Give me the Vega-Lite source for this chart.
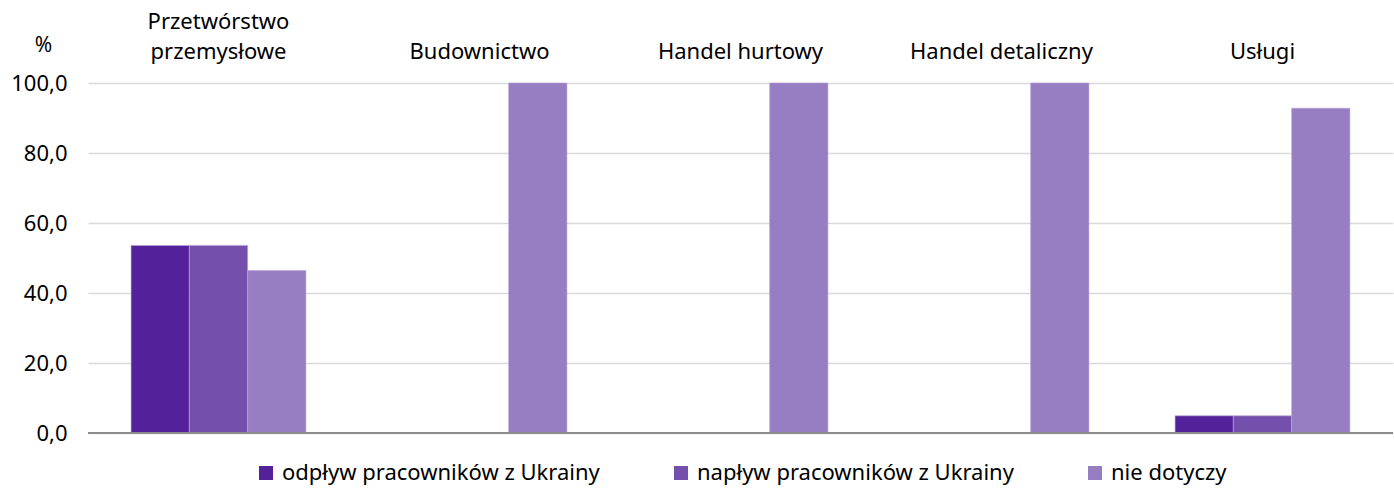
{
  "$schema": "https://vega.github.io/schema/vega-lite/v6.json",
  "width": 1394,
  "height": 488,
  "autosize": {"type": "fit", "contains": "padding"},
  "padding": {"left": 10, "top": 10, "right": 0, "bottom": 4},
  "background": "white",
  "config": {
    "font": "Noto Sans",
    "view": {"stroke": null},
    "legend": {"layout": {"bottom": {"anchor": "middle"}}}
  },
  "data": {
    "values": [
      {"sektor": "Przetwórstwo|przemysłowe", "seria": "odpływ pracowników z Ukrainy", "wartosc": 53.6},
      {"sektor": "Przetwórstwo|przemysłowe", "seria": "napływ pracowników z Ukrainy", "wartosc": 53.6},
      {"sektor": "Przetwórstwo|przemysłowe", "seria": "nie dotyczy", "wartosc": 46.4},
      {"sektor": "Budownictwo", "seria": "odpływ pracowników z Ukrainy", "wartosc": 0},
      {"sektor": "Budownictwo", "seria": "napływ pracowników z Ukrainy", "wartosc": 0},
      {"sektor": "Budownictwo", "seria": "nie dotyczy", "wartosc": 100},
      {"sektor": "Handel hurtowy", "seria": "odpływ pracowników z Ukrainy", "wartosc": 0},
      {"sektor": "Handel hurtowy", "seria": "napływ pracowników z Ukrainy", "wartosc": 0},
      {"sektor": "Handel hurtowy", "seria": "nie dotyczy", "wartosc": 100},
      {"sektor": "Handel detaliczny", "seria": "odpływ pracowników z Ukrainy", "wartosc": 0},
      {"sektor": "Handel detaliczny", "seria": "napływ pracowników z Ukrainy", "wartosc": 0},
      {"sektor": "Handel detaliczny", "seria": "nie dotyczy", "wartosc": 100},
      {"sektor": "Usługi", "seria": "odpływ pracowników z Ukrainy", "wartosc": 4.9},
      {"sektor": "Usługi", "seria": "napływ pracowników z Ukrainy", "wartosc": 4.9},
      {"sektor": "Usługi", "seria": "nie dotyczy", "wartosc": 92.8}
    ]
  },
  "layer": [
    {
      "mark": {"type": "bar", "stroke": "#b9a6d8", "strokeWidth": 0.6},
      "encoding": {
        "x": {
          "field": "sektor",
          "type": "nominal",
          "sort": null,
          "scale": {"paddingInner": 0.33, "paddingOuter": 0.165},
          "axis": {
            "orient": "top",
            "title": null,
            "ticks": false,
            "domain": false,
            "labelAngle": 0,
            "labelFontSize": 22,
            "labelColor": "#000000",
            "labelPadding": 50,
            "labelLineHeight": 30,
            "labelLimit": 400,
            "labelExpr": "length(split(datum.label, '|')) > 1 ? split(datum.label, '|') : ['', datum.label]"
          }
        },
        "xOffset": {
          "field": "seria",
          "type": "nominal",
          "sort": ["odpływ pracowników z Ukrainy", "napływ pracowników z Ukrainy", "nie dotyczy"],
          "scale": {"paddingInner": 0, "paddingOuter": 0}
        },
        "y": {
          "field": "wartosc",
          "type": "quantitative",
          "scale": {"domain": [0, 100], "nice": false},
          "axis": {
            "title": "%",
            "titleAngle": 0,
            "titleFontSize": 21,
            "titleFontWeight": "normal",
            "titleColor": "#000000",
            "titleX": -45,
            "titleY": -38,
            "titleAlign": "center",
            "titleBaseline": "middle",
            "values": [0, 20, 40, 60, 80, 100],
            "labelExpr": "replace(format(datum.value, '.1f'), '.', ',')",
            "labelFontSize": 22,
            "labelColor": "#000000",
            "labelPadding": 21,
            "ticks": false,
            "domain": false,
            "gridColor": "#d9d9d9",
            "gridWidth": 1.3
          }
        },
        "color": {
          "field": "seria",
          "type": "nominal",
          "scale": {
            "domain": ["odpływ pracowników z Ukrainy", "napływ pracowników z Ukrainy", "nie dotyczy"],
            "range": ["#53229a", "#7450ac", "#977dc1"]
          },
          "legend": {
            "orient": "bottom",
            "direction": "horizontal",
            "title": null,
            "symbolType": "square",
            "symbolSize": 196,
            "symbolStrokeWidth": 0,
            "labelFontSize": 22,
            "labelColor": "#000000",
            "labelLimit": 400,
            "labelOffset": 5,
            "columnPadding": 70,
            "offset": 29
          }
        }
      }
    },
    {
      "mark": {"type": "rule", "color": "#8c8c8c", "strokeWidth": 1.5},
      "encoding": {"y": {"datum": 0}}
    }
  ]
}
